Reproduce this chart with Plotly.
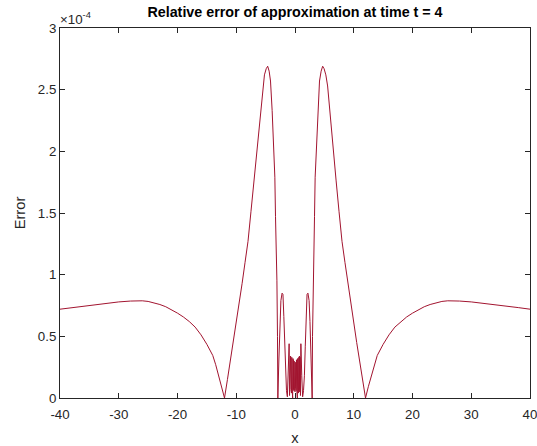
import plotly.graph_objects as go

# ---- data (error values in units of 1e-4) ----
x_left_outer = [-40, -38, -36, -34, -32, -30, -28, -27, -26, -25, -24, -23, -22, -21,
                -20, -19, -18, -17, -16, -15, -14, -13.5, -13, -12.5, -12.0]
err_left_outer = [0.720, 0.733, 0.746, 0.758, 0.769, 0.779, 0.786, 0.789, 0.788, 0.783,
                  0.773, 0.758, 0.740, 0.716, 0.688, 0.657, 0.620, 0.575, 0.512, 0.435,
                  0.345, 0.270, 0.185, 0.095, 0.0]

x_left_peak = [-11.5, -11, -10.5, -10, -9.5, -9, -8.5, -8, -7.5, -7, -6.5, -6, -5.5,
               -5.2, -4.9, -4.65, -4.4, -4.17, -3.89, -3.66, -3.43, -3.32, -3.2, -3.08,
               -2.98, -2.92]
err_left_peak = [0.15, 0.30, 0.45, 0.61, 0.77, 0.93, 1.10, 1.27, 1.51, 1.76, 2.02, 2.27,
                 2.53, 2.62, 2.67, 2.69, 2.65, 2.57, 2.33, 2.06, 1.79, 1.47, 1.25, 0.95,
                 0.50, 0.0]

x_center = [-2.75, -2.55, -2.4, -2.2, -2.05, -1.9, -1.75, -1.6, -1.45, -1.3, -1.15, -1.0,
            -0.93,
            -0.85, -0.80, -0.75, -0.70, -0.65, -0.60, -0.55, -0.50, -0.45, -0.40, -0.35,
            -0.30, -0.25, -0.20, -0.15, -0.10, -0.05, 0.00, 0.05, 0.10, 0.15, 0.20, 0.25,
            0.30, 0.35, 0.40, 0.45, 0.50, 0.55, 0.60, 0.65, 0.70, 0.75, 0.80, 0.85,
            0.93, 1.0, 1.15, 1.3, 1.45, 1.6, 1.75, 1.9, 2.05, 2.2, 2.4, 2.55, 2.75]
err_center = [0.30, 0.62, 0.79, 0.85, 0.84, 0.66, 0.42, 0.18, 0.06, 0.01, 0.18, 0.44,
              0.02,
              0.33, 0.05, 0.34, 0.07, 0.33, 0.04, 0.33, 0.08, 0.32, 0.00, 0.32,
              0.07, 0.31, 0.06, 0.30, 0.08, 0.29, 0.05, 0.29, 0.08, 0.30, 0.06, 0.31,
              0.07, 0.32, 0.00, 0.32, 0.08, 0.33, 0.04, 0.33, 0.07, 0.34, 0.05, 0.33,
              0.02, 0.44, 0.18, 0.01, 0.06, 0.18, 0.42, 0.66, 0.84, 0.85, 0.79, 0.62, 0.30]

x_right_peak = [2.92, 2.98, 3.08, 3.2, 3.32, 3.43, 3.66, 3.89, 4.17, 4.45, 4.71, 4.95,
                5.25, 5.55, 6, 6.5, 7, 7.5, 8, 8.5, 9, 9.5, 10, 10.5, 11, 11.5]
err_right_peak = [0.0, 0.50, 0.95, 1.25, 1.47, 1.79, 2.06, 2.33, 2.57, 2.65, 2.69, 2.67,
                  2.62, 2.53, 2.27, 2.02, 1.76, 1.51, 1.27, 1.10, 0.93, 0.77, 0.61, 0.45,
                  0.30, 0.15]

x_right_outer = [12.0, 12.5, 13, 13.5, 14, 15, 16, 17, 18, 19, 20, 21, 22, 23, 24, 25,
                 26, 27, 28, 30, 32, 34, 36, 38, 40]
err_right_outer = [0.0, 0.095, 0.185, 0.270, 0.345, 0.435, 0.512, 0.575, 0.620, 0.657,
                   0.688, 0.716, 0.740, 0.758, 0.773, 0.783, 0.788, 0.789, 0.786, 0.779,
                   0.769, 0.758, 0.746, 0.733, 0.720]

x_tick_vals = [-40, -30, -20, -10, 0, 10, 20, 30, 40]
x_tick_labels = ["-40", "-30", "-20", "-10", "0", "10", "20", "30", "40"]
y_tick_vals = [0, 0.5, 1, 1.5, 2, 2.5, 3]
y_tick_labels = ["0", "0.5", "1", "1.5", "2", "2.5", "3"]

x = x_left_outer + x_left_peak + x_center + x_right_peak + x_right_outer
err = err_left_outer + err_left_peak + err_center + err_right_peak + err_right_outer

FONT = "Liberation Sans, Arial, Helvetica, sans-serif"
AX = "#262626"

fig = go.Figure(go.Scatter(x=x, y=err, mode="lines",
                           line=dict(color="#A2142F", width=1), hoverinfo="skip"))

axis_common = dict(showgrid=False, zeroline=False, showline=True, linecolor=AX,
                   linewidth=1, mirror="ticks", ticks="inside", ticklen=5,
                   tickcolor=AX, tickwidth=1, automargin=False,
                   ticklabeloverflow="allow",
                   tickfont=dict(family=FONT, size=13.3, color=AX))

fig.update_xaxes(range=[-40, 40], tickmode="array", tickvals=x_tick_vals,
                 ticktext=x_tick_labels, ticklabelstandoff=4,
                 title=dict(text="x", font=dict(family=FONT, size=14.7, color=AX),
                            standoff=12),
                 **axis_common)
fig.update_yaxes(range=[0, 3], tickmode="array", tickvals=y_tick_vals,
                 ticktext=y_tick_labels,
                 title=dict(text="Error", font=dict(family=FONT, size=14.7, color=AX),
                            standoff=8),
                 **axis_common)

fig.add_annotation(text="×10<sup>-4</sup>", xref="paper", yref="paper", x=0, y=1,
                   xanchor="left", yanchor="bottom", showarrow=False, xshift=-2,
                   yshift=-1,
                   font=dict(family=FONT, size=13.3, color=AX))

fig.update_layout(
    width=537, height=446,
    margin=dict(l=60, r=7, t=28, b=48, autoexpand=False),
    paper_bgcolor="white", plot_bgcolor="white",
    showlegend=False,
    title=dict(text="<b>Relative error of approximation at time t = 4</b>",
               font=dict(family=FONT, size=14.3, color="black"),
               x=0.5, xref="paper", xanchor="center",
               y=1 - 12 / 446, yref="container", yanchor="middle"),
)

fig.write_html(
    "out.html", include_plotlyjs=True, full_html=True,
    config={"displayModeBar": False},
    post_script="document.body.style.margin='0px';"
                "document.body.style.overflow='hidden';",
)
